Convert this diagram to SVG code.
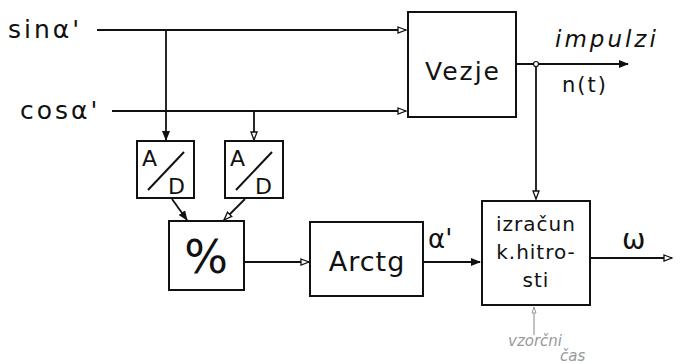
<svg xmlns="http://www.w3.org/2000/svg" width="682" height="364" viewBox="0 0 682 364">
<style>
.box{fill:#fff;stroke:#111;stroke-width:2}
.ln{fill:none;stroke:#111;stroke-width:1.8}
.t{font-family:"DejaVu Sans","Liberation Sans",sans-serif;fill:#111}
.faint{fill:none;stroke:#999;stroke-width:1.2}
</style>
<defs>
<marker id="af" markerWidth="10" markerHeight="8" refX="9" refY="4" orient="auto" markerUnits="userSpaceOnUse">
<path d="M0,0 L10,4 L0,8 Z" fill="#111"/>
</marker>
<marker id="ao" markerWidth="10" markerHeight="8" refX="9" refY="4" orient="auto" markerUnits="userSpaceOnUse">
<path d="M1,1 L9,4 L1,7 Z" fill="#fff" stroke="#111" stroke-width="1.3"/>
</marker>
<marker id="ag" markerWidth="8" markerHeight="6" refX="7" refY="3" orient="auto" markerUnits="userSpaceOnUse">
<path d="M1,1 L7,3 L1,5 Z" fill="#fff" stroke="#999" stroke-width="1"/>
</marker>
</defs>

<g id="connectors">
<path class="ln" d="M97,30 L406,30" marker-end="url(#ao)"/>
<path class="ln" d="M112,111 L406,111" marker-end="url(#ao)"/>
<path class="ln" d="M166,30 L166,140" marker-end="url(#af)"/>
<path class="ln" d="M254,111 L254,140" marker-end="url(#ao)"/>
<path class="ln" d="M172,199 L187,220" marker-end="url(#af)"/>
<path class="ln" d="M245,199 L224,220" marker-end="url(#ao)"/>
<path class="ln" d="M244,262 L309,262" marker-end="url(#ao)"/>
<path class="ln" d="M423,262 L480,262" marker-end="url(#af)"/>
<path class="ln" d="M590,258 L672,258" marker-end="url(#ao)"/>
<path class="ln" d="M516,64 L628,64" marker-end="url(#af)"/>
<path class="ln" d="M536,64 L536,199" marker-end="url(#ao)"/>
<circle cx="536" cy="64" r="2.5" fill="#fff" stroke="#111" stroke-width="1.2"/>
<path class="faint" d="M534,335 L534,307" marker-end="url(#ag)"/>
</g>

<g id="labels">
<text class="t" x="8" y="38" font-size="25" letter-spacing="3">sinα'</text>
<text class="t" x="20" y="119" font-size="25" letter-spacing="3">cosα'</text>
<text class="t" x="555" y="47" font-size="23" font-style="italic" letter-spacing="3">impulzi</text>
<text class="t" x="562" y="92" font-size="21" letter-spacing="2">n(t)</text>
<text class="t" x="428" y="248" font-size="26">α'</text>
<text class="t" x="622" y="249" font-size="28">ω</text>
<text x="508" y="346" font-size="15" font-family="DejaVu Sans, sans-serif" fill="#999" font-style="italic">vzorčni</text>
<text x="560" y="361" font-size="15" font-family="DejaVu Sans, sans-serif" fill="#999" font-style="italic">čas</text>
</g>

<g id="vezje">
<rect class="box" x="408" y="12" width="108" height="105"/>
<text class="t" x="463" y="80" font-size="25" text-anchor="middle" letter-spacing="2">Vezje</text>
</g>

<g id="ad1">
<rect class="box" x="137" y="141" width="57" height="57"/>
<text class="t" x="142" y="166" font-size="22">A</text>
<line x1="148" y1="190" x2="184" y2="152" stroke="#111" stroke-width="2"/>
<text class="t" x="168" y="194" font-size="22">D</text>
</g>

<g id="ad2">
<rect class="box" x="225" y="141" width="58" height="57"/>
<text class="t" x="230" y="166" font-size="22">A</text>
<line x1="236" y1="190" x2="272" y2="152" stroke="#111" stroke-width="2"/>
<text class="t" x="255" y="194" font-size="22">D</text>
</g>

<g id="div">
<rect class="box" x="169" y="221" width="75" height="69"/>
<text class="t" x="206" y="273" font-size="46" text-anchor="middle">%</text>
</g>

<g id="arctg">
<rect class="box" x="310" y="222" width="113" height="74"/>
<text class="t" x="367" y="271" font-size="27" text-anchor="middle" letter-spacing="1">Arctg</text>
</g>

<g id="izracun">
<rect class="box" x="482" y="201" width="108" height="104"/>
<text class="t" x="536" y="231" font-size="20" text-anchor="middle" letter-spacing="1">izračun</text>
<text class="t" x="536" y="259" font-size="20" text-anchor="middle" letter-spacing="1">k.hitro-</text>
<text class="t" x="536" y="287" font-size="20" text-anchor="middle" letter-spacing="1">sti</text>
</g>
</svg>
